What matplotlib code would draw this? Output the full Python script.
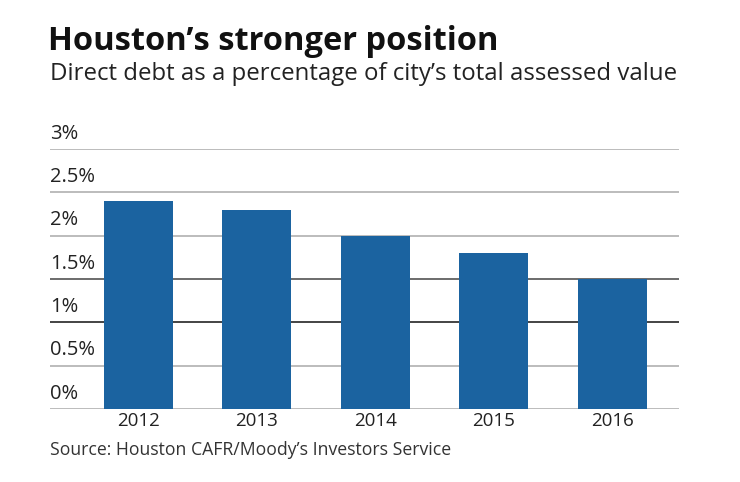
import matplotlib
matplotlib.use("Agg")
import matplotlib.pyplot as plt

years = ["2012", "2013", "2014", "2015", "2016"]
debt_pct = [2.4, 2.3, 2.0, 1.8, 1.5]
grid_vals = [0, 0.5, 1, 1.5, 2, 2.5, 3]
grid_labels = ["0%", "0.5%", "1%", "1.5%", "2%", "2.5%", "3%"]

BAR_COLOR = "#1b63a0"
plt.rcParams['font.family'] = ['Open Sans', 'DejaVu Sans']

fig = plt.figure(figsize=(7.4, 4.82), dpi=100)
ax = fig.add_axes([50 / 740, 1 - 409 / 482, 629 / 740, 260 / 482])

# grid lines with labels sitting above them
for v, lab in zip(grid_vals, grid_labels):
    if v == 1:
        col = "#111111"
    elif v == 1.5:
        col = "#444444"
    else:
        col = "#aaaaaa"
    ax.axhline(v, color=col, lw=1.1, zorder=1)
    ax.text(-0.747, v + 0.06, lab, fontsize=14.5, color="#222222",
            ha="left", va="bottom", zorder=3)

x = range(len(years))
ax.bar(x, debt_pct, width=0.583, color=BAR_COLOR, zorder=2)

ax.set_xlim(-0.747, 4.565)
ax.set_ylim(0, 3)
ax.set_xticks(list(x))
ax.set_xticklabels(years, fontsize=13.5, color="#222222")
ax.tick_params(axis="x", length=0, pad=2)
ax.set_yticks([])
for s in ax.spines.values():
    s.set_visible(False)

fig.text(48 / 740, 1 - 42 / 482, "Houston\u2019s stronger position",
         fontsize=23.5, fontweight="bold", color="#111111", va="center")
fig.text(50 / 740, 1 - 74 / 482,
         "Direct debt as a percentage of city\u2019s total assessed value",
         fontsize=17.3, color="#222222", va="center")
fig.text(50 / 740, 1 - 450 / 482, "Source: Houston CAFR/Moody\u2019s Investors Service",
         fontsize=12.7, color="#333333", va="center")

fig.savefig("out.png", dpi=100)
